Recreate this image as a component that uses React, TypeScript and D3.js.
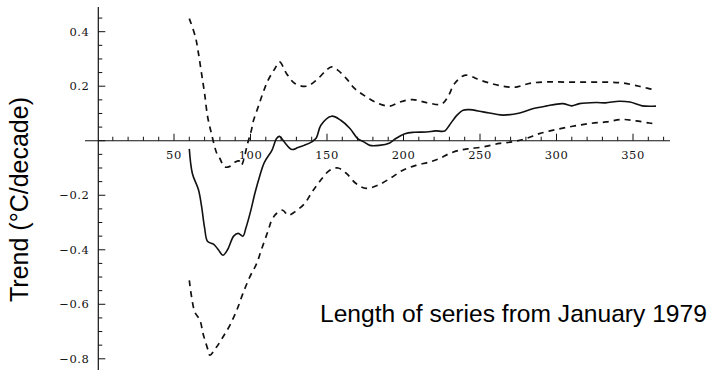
import React from "react";
import * as d3 from "d3";

// Length of series (months from January 1979) and trend (°C/decade)
const trendMonths = [60,62,66,68,70,72,76,79,82,85,89,92,95,97,100,103,106,109,114,117,119,122,127,131,135,140,143,146,153,159,165,170,174,178,184,191,195,201,207,215,221,227,230,235,239,243,252,265,276,285,293,304,310,315,326,332,341,348,356,365];
const trendValues = [-0.03,-0.12,-0.18,-0.24,-0.32,-0.37,-0.38,-0.40,-0.42,-0.40,-0.35,-0.34,-0.35,-0.32,-0.26,-0.19,-0.13,-0.08,-0.035,0.008,0.016,-0.004,-0.032,-0.025,-0.017,-0.004,0.01,0.057,0.09,0.075,0.045,0.008,-0.004,-0.017,-0.017,-0.008,0.008,0.026,0.031,0.032,0.036,0.036,0.057,0.094,0.112,0.114,0.106,0.094,0.102,0.118,0.127,0.136,0.128,0.136,0.14,0.139,0.145,0.142,0.128,0.127];

const upperMonths = [60,64,66,68,70,72,74.5,78,80,83,86.5,90,92.5,94,98.4,100.6,102,105,108,111.5,116,119,123.5,129,136.6,143,149.6,153,157,162.7,168,175.7,183.3,191,197.5,206,215,224.7,229,233.4,239.9,245.3,247.5,256,265,273.6,282,293,306,319,332,343,354,363,365];
const upperValues = [0.448,0.381,0.32,0.247,0.173,0.087,0.026,-0.047,-0.065,-0.096,-0.094,-0.078,-0.074,-0.09,-0.004,0.039,0.075,0.124,0.173,0.222,0.265,0.289,0.247,0.21,0.2,0.222,0.259,0.271,0.259,0.228,0.192,0.161,0.137,0.127,0.142,0.151,0.14,0.134,0.161,0.21,0.24,0.234,0.228,0.212,0.2,0.197,0.21,0.216,0.215,0.215,0.215,0.212,0.2,0.188,0.186];

const lowerMonths = [60,61.5,63.6,67,69,72.3,73.4,77.8,82,86.5,91,95,99.5,104,107,111.5,114,117,121,124.6,129,135.4,140,145,151.8,157.2,162.7,169,175.7,183.3,191,199.6,208.4,217,223.6,230,236.6,243,251.8,262.7,271.4,280,288.8,299.7,310.6,321.5,332.4,343.2,352,360.6,365];
const lowerValues = [-0.512,-0.573,-0.628,-0.659,-0.708,-0.769,-0.787,-0.757,-0.72,-0.677,-0.622,-0.561,-0.5,-0.451,-0.402,-0.33,-0.29,-0.267,-0.255,-0.273,-0.261,-0.23,-0.19,-0.151,-0.108,-0.1,-0.12,-0.157,-0.175,-0.163,-0.139,-0.108,-0.09,-0.078,-0.065,-0.047,-0.035,-0.029,-0.023,-0.01,-0.004,0.008,0.026,0.041,0.053,0.063,0.069,0.078,0.073,0.065,0.063];

const xMajorTicks = [50, 100, 150, 200, 250, 300, 350];
const xMinorTicks = d3.range(10, 371, 10);
const yMajorTicks = [0.4, 0.2, -0.2, -0.4, -0.6, -0.8];
const yMinorTicks = d3.range(-17, 10).map((k) => k * 0.05);

const yTitle = "Trend (°C/decade)";
const xTitle = "Length of series from January 1979";

export default function App() {
  const W = 713, H = 370;
  const x = d3.scaleLinear().domain([0, 350]).range([97.5, 633]);
  const y = d3.scaleLinear().domain([-0.8, 0.4]).range([358.8, 31.7]);
  const y0 = y(0);
  const axisX = 98.3;

  const line = d3
    .line<[number, number]>()
    .x((d) => x(d[0]))
    .y((d) => y(d[1]))
    .curve(d3.curveCatmullRom.alpha(0.5));

  const pts = (xs: number[], ys: number[]) =>
    xs.map((m, i) => [m, ys[i]] as [number, number]);

  const ink = "#111";
  const tickFont = "'DejaVu Serif', 'Liberation Serif', serif";

  return (
    <svg
      width={W}
      height={H}
      viewBox={`0 0 ${W} ${H}`}
      style={{ position: "absolute", left: 0, top: 0, background: "#fff" }}
    >
      {/* axes */}
      <line x1={85} x2={670} y1={y0} y2={y0} stroke={ink} strokeWidth={1.2} />
      <line x1={axisX} x2={axisX} y1={7} y2={370} stroke={ink} strokeWidth={1.2} />

      {/* x ticks */}
      {xMinorTicks.map((t) => {
        const major = t % 50 === 0;
        return (
          <line
            key={"xt" + t}
            x1={x(t)}
            x2={x(t)}
            y1={y0}
            y2={y0 - (major ? 7 : 4)}
            stroke={ink}
            strokeWidth={1}
          />
        );
      })}
      {xMajorTicks.map((t) => (
        <text
          key={"xl" + t}
          x={x(t)}
          y={158.5}
          textAnchor="middle"
          fontFamily={tickFont}
          fontSize={11.5}
          letterSpacing={0.6}
          fill={ink}
        >
          {t}
        </text>
      ))}

      {/* y ticks */}
      {yMinorTicks.map((t) => {
        const major = Math.abs(Math.round(t * 10) - t * 10) < 1e-6 && Math.round(t * 10) % 2 === 0;
        return (
          <line
            key={"yt" + t.toFixed(2)}
            x1={axisX}
            x2={axisX + (major ? 7 : 4)}
            y1={y(t)}
            y2={y(t)}
            stroke={ink}
            strokeWidth={1}
          />
        );
      })}
      {yMajorTicks.map((t) => (
        <text
          key={"yl" + t}
          x={89.5}
          y={y(t) + 4}
          textAnchor="end"
          fontFamily={tickFont}
          fontSize={11.5}
          letterSpacing={0.6}
          fill={ink}
        >
          {(t < 0 ? "\u2212" : "") + Math.abs(t).toFixed(1)}
        </text>
      ))}

      {/* series */}
      <path
        d={line(pts(upperMonths, upperValues)) || ""}
        fill="none"
        stroke={ink}
        strokeWidth={1.7}
        strokeDasharray="6 5"
      />
      <path
        d={line(pts(lowerMonths, lowerValues)) || ""}
        fill="none"
        stroke={ink}
        strokeWidth={1.7}
        strokeDasharray="6 5"
      />
      <path
        d={line(pts(trendMonths, trendValues)) || ""}
        fill="none"
        stroke={ink}
        strokeWidth={1.6}
      />

      {/* titles */}
      <text
        transform="translate(28,199.5) rotate(-90)"
        textAnchor="middle"
        fontFamily="'Liberation Sans', Arial, sans-serif"
        fontSize={25}
        fill="#000"
      >
        {yTitle}
      </text>
      <text
        x={320}
        y={321.7}
        fontFamily="'Liberation Sans', Arial, sans-serif"
        fontSize={24.6}
        fill="#000"
      >
        {xTitle}
      </text>
    </svg>
  );
}
